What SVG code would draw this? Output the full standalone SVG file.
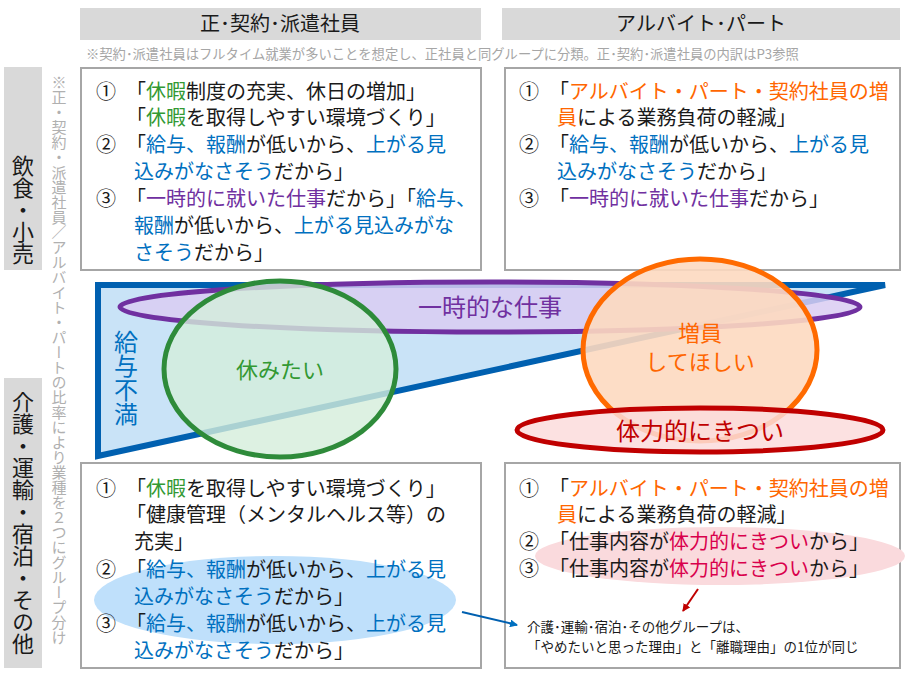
<svg xmlns="http://www.w3.org/2000/svg" width="909" height="679" viewBox="0 0 909 679">
<defs>
<style>
text{font-family:"Noto Sans CJK JP","Noto Sans CJK SC",sans-serif}
.hdr{fill:#d9d9d9}
.box{fill:#fff;stroke:#a6a6a6;stroke-width:2}
.t{font-size:20px;fill:#1a1a1a}
.g{fill:#339933}.b{fill:#0070c0}.p{fill:#7030a0}.o{fill:#ff6600}.r{fill:#d9004c}
.vt{writing-mode:vertical-rl;text-anchor:middle}
</style>
<marker id="ab" markerWidth="8" markerHeight="8" refX="7" refY="4" orient="auto" markerUnits="userSpaceOnUse"><path d="M0,0L8,4L0,8z" fill="#0070c0"/></marker>
<marker id="ar" markerWidth="8" markerHeight="8" refX="7" refY="4" orient="auto" markerUnits="userSpaceOnUse"><path d="M0,0L8,4L0,8z" fill="#c00000"/></marker>
</defs>
<rect width="909" height="679" fill="#fff"/>
<g id="headers">
<rect class="hdr" x="80" y="8" width="401" height="32"/>
<text x="280" y="31" font-size="20" text-anchor="middle" fill="#1a1a1a">正･契約･派遣社員</text>
<rect class="hdr" x="502" y="8" width="398" height="32"/>
<text x="701" y="31" font-size="20" text-anchor="middle" fill="#1a1a1a">アルバイト･パート</text>
<text x="86" y="59" font-size="13.3" fill="#a6a6a6">※契約･派遣社員はフルタイム就業が多いことを想定し、正社員と同グループに分類。正･契約･派遣社員の内訳はP3参照</text>
</g>
<g id="groups">
<rect class="hdr" x="4" y="67" width="38" height="203"/>
<text class="vt" x="23" y="210" font-size="22" fill="#1a1a1a">飲食・小売</text>
<rect class="hdr" x="4" y="378" width="38" height="290"/>
<text class="vt" x="23" y="523" font-size="22" fill="#1a1a1a">介護・運輸・宿泊・その他</text>
<text class="vt" x="59" y="360" font-size="15" fill="#b0b0b0">※正・契約・派遣社員／アルバイト・パートの比率により業種を２つにグループ分け</text>
</g>
<g id="box-tl">
<rect class="box" x="81" y="68" width="400" height="202"/>
<text class="t" x="96" y="99">①</text>
<text class="t" x="126" y="99">「<tspan class="g">休暇</tspan>制度の充実、休日の増加」</text>
<text class="t" x="126" y="125">「<tspan class="g">休暇</tspan>を取得しやすい環境づくり」</text>
<text class="t" x="96" y="152">②</text>
<text class="t" x="126" y="152">「<tspan class="b">給与、報酬</tspan>が低いから、<tspan class="b">上がる見</tspan></text>
<text class="t b" x="134" y="179">込みがなさそう<tspan fill="#1a1a1a">だから」</tspan></text>
<text class="t" x="96" y="206">③</text>
<text class="t" x="126" y="206">「<tspan class="p">一時的に就いた仕事</tspan>だから」「<tspan class="b">給与、</tspan></text>
<text class="t" x="134" y="233"><tspan class="b">報酬</tspan>が低いから、<tspan class="b">上がる見込みがな</tspan></text>
<text class="t" x="134" y="260"><tspan class="b">さそう</tspan>だから」</text>
</g>
<g id="box-tr">
<rect class="box" x="505" y="68" width="395" height="202"/>
<text class="t" x="519" y="99">①</text>
<text class="t" x="549" y="99">「<tspan class="o">アルバイト・パート・契約社員の増</tspan></text>
<text class="t" x="557" y="125"><tspan class="o">員</tspan>による業務負荷の軽減」</text>
<text class="t" x="519" y="152">②</text>
<text class="t" x="549" y="152">「<tspan class="b">給与、報酬</tspan>が低いから、<tspan class="b">上がる見</tspan></text>
<text class="t b" x="557" y="179">込みがなさそう<tspan fill="#1a1a1a">だから」</tspan></text>
<text class="t" x="519" y="206">③</text>
<text class="t" x="549" y="206">「<tspan class="p">一時的に就いた仕事</tspan>だから」</text>
</g>
<g id="venn">
<polygon points="98,285 885,285 98,456" fill="#c9e3f7" stroke="#0060b0" stroke-width="6" stroke-linejoin="miter"/>
<ellipse id="n-temp" cx="490" cy="307" rx="370" ry="25" fill="#d9cdf2" fill-opacity="0.85" stroke="#7030a0" stroke-width="5"/>
<ellipse id="n-rest" cx="280" cy="369" rx="116" ry="88" fill="#d4eedb" fill-opacity="0.8" stroke="#2e8b3a" stroke-width="5"/>
<ellipse id="n-add" cx="700" cy="350" rx="117" ry="91" fill="#fdd9c0" fill-opacity="0.9" stroke="#ff6a00" stroke-width="5"/>
<ellipse id="n-hard" cx="700" cy="430" rx="183" ry="22" fill="#fcdcdc" fill-opacity="0.85" stroke="#c00000" stroke-width="5"/>
<text x="490" y="316" font-size="24" text-anchor="middle" class="p">一時的な仕事</text>
<text x="280" y="378" font-size="22" text-anchor="middle" class="g">休みたい</text>
<text x="700" y="341" font-size="22" text-anchor="middle" class="o">増員</text>
<text x="700" y="370" font-size="22" text-anchor="middle" class="o">してほしい</text>
<text x="700" y="440" font-size="24" text-anchor="middle" fill="#c00000">体力的にきつい</text>
<text class="vt b" x="126" y="378" font-size="24">給与不満</text>
</g>
<g id="box-bl">
<rect class="box" x="81" y="463" width="400" height="205"/>
<ellipse cx="275" cy="600" rx="181" ry="44" fill="#bfe0fb"/>
<text class="t" x="96" y="496">①</text>
<text class="t" x="126" y="496">「<tspan class="g">休暇</tspan>を取得しやすい環境づくり」</text>
<text class="t" x="126" y="522">「健康管理（メンタルヘルス等）の</text>
<text class="t" x="134" y="549">充実」</text>
<text class="t" x="96" y="577">②</text>
<text class="t" x="126" y="577">「<tspan class="b">給与、報酬</tspan>が低いから、<tspan class="b">上がる見</tspan></text>
<text class="t b" x="134" y="604">込みがなさそう<tspan fill="#1a1a1a">だから」</tspan></text>
<text class="t" x="96" y="631">③</text>
<text class="t" x="126" y="631">「<tspan class="b">給与、報酬</tspan>が低いから、<tspan class="b">上がる見</tspan></text>
<text class="t b" x="134" y="658">込みがなさそう<tspan fill="#1a1a1a">だから」</tspan></text>
</g>
<g id="box-br">
<rect class="box" x="505" y="463" width="395" height="205"/>
<ellipse cx="720" cy="556" rx="185" ry="29" fill="#fadadd"/>
<text class="t" x="519" y="496">①</text>
<text class="t" x="549" y="496">「<tspan class="o">アルバイト・パート・契約社員の増</tspan></text>
<text class="t" x="557" y="522"><tspan class="o">員</tspan>による業務負荷の軽減」</text>
<text class="t" x="519" y="549">②</text>
<text class="t" x="549" y="549">「仕事内容が<tspan class="r">体力的にきつい</tspan>から」</text>
<text class="t" x="519" y="576">③</text>
<text class="t" x="549" y="576">「仕事内容が<tspan class="r">体力的にきつい</tspan>から」</text>
<text x="527" y="632" font-size="13.5" fill="#1a1a1a">介護･運輸･宿泊･その他グループは、</text>
<text x="527" y="652" font-size="13.5" fill="#1a1a1a">「やめたいと思った理由」と「離職理由」の1位が同じ</text>
</g>
<g id="connectors">
<line x1="462" y1="612" x2="517" y2="625" stroke="#0060b0" stroke-width="2" marker-end="url(#ab)"/>
<line x1="698" y1="589" x2="683" y2="611" stroke="#c00000" stroke-width="2" marker-end="url(#ar)"/>
</g>
</svg>
